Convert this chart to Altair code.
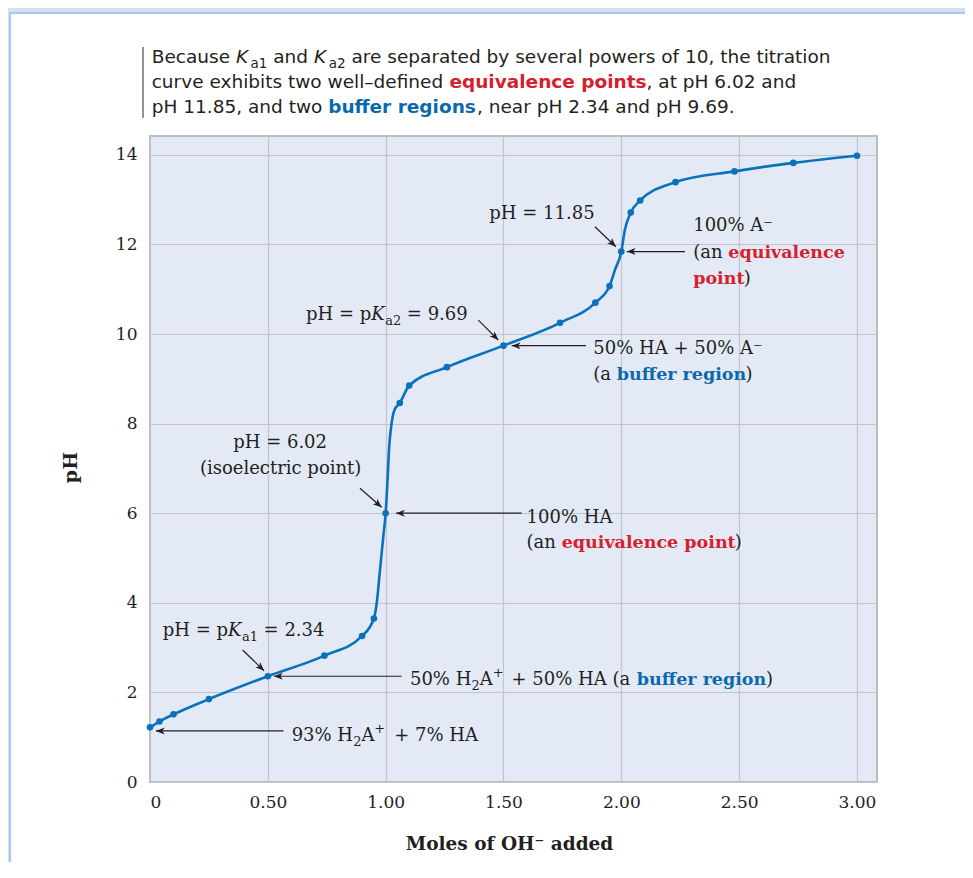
import math
import altair as alt
import pandas as pd

# ---------------- data ----------------
# measured titration points (dots)
moles = [0.00, 0.04, 0.10, 0.25, 0.50, 0.74, 0.90, 0.95, 1.00, 1.06, 1.10, 1.26,
         1.50, 1.74, 1.89, 1.95, 2.00, 2.04, 2.08, 2.23, 2.48, 2.73, 3.00]
ph = [1.22, 1.35, 1.51, 1.85, 2.36, 2.82, 3.26, 3.65, 6.00, 8.46, 8.85, 9.26,
      9.74, 10.25, 10.70, 11.07, 11.84, 12.71, 12.98, 13.39, 13.63, 13.82, 13.98]

# extra positions in its steep parts
trace_moles = [0.962, 0.976, 0.990, 1.008, 1.015, 1.025, 1.037, 1.973, 2.015]
trace_ph = [3.99, 4.73, 5.48, 6.74, 7.48, 8.00, 8.30, 11.43, 12.32]

x_ticks = [0, 0.5, 1.0, 1.5, 2.0, 2.5, 3.0]
y_ticks = [0, 2, 4, 6, 8, 10, 12, 14]

# ---------------- layout / style ----------------
W, H = 727, 646
XDOM = [0, 3.085]
YDOM = [0, 14.42]
BLUE = "#0a72bd"
RED = "#d6202e"
DBLUE = "#0b68ad"
INK = "#231f20"
SERIF = "DejaVu Serif"
SANS = "DejaVu Sans"

xs = alt.Scale(domain=XDOM, nice=False, zero=False)
ys = alt.Scale(domain=YDOM, nice=False, zero=False)

pts_df = pd.DataFrame({"moles": moles, "ph": ph})
curve_df = (pd.DataFrame({"moles": moles + trace_moles, "ph": ph + trace_ph})
            .sort_values("moles").reset_index(drop=True))

# ---------------- annotations (data units) ----------------
ann = [
    # pH = 11.85
    (1.440, 12.56, "pH = 11.85", "serif", INK),
    (2.305, 12.30, "100% A⁻", "serif", INK),
    (2.305, 11.70, "(an", "serif", INK),
    (2.454, 11.70, "equivalence", "serif_b", RED),
    (2.305, 11.116, "point", "serif_b", RED),
    (2.520, 11.116, ")", "serif", INK),
    # pKa2
    (0.662, 10.31, "pH = p", "serif", INK),
    (0.939, 10.31, "K", "serif_i", INK),
    (0.998, 10.198, "a2", "serif_sub", INK),
    (1.090, 10.31, "= 9.69", "serif", INK),
    (1.881, 9.554, "50% HA + 50% A⁻", "serif", INK),
    (1.881, 8.973, "(a", "serif", INK),
    (1.981, 8.973, "buffer region", "serif_b", DBLUE),
    (2.527, 8.973, ")", "serif", INK),
    # isoelectric point
    (0.353, 7.449, "pH = 6.02", "serif", INK),
    (0.212, 6.875, "(isoelectric point)", "serif", INK),
    (1.598, 5.788, "100% HA", "serif", INK),
    (1.598, 5.217, "(an", "serif", INK),
    (1.747, 5.217, "equivalence point", "serif_b", RED),
    (2.481, 5.217, ")", "serif", INK),
    # pKa1
    (0.054, 3.259, "pH = p", "serif", INK),
    (0.331, 3.259, "K", "serif_i", INK),
    (0.390, 3.147, "a1", "serif_sub", INK),
    (0.482, 3.259, "= 2.34", "serif", INK),
    (1.103, 2.165, "50% H", "serif", INK),
    (1.364, 2.053, "2", "serif_sub", INK),
    (1.399, 2.165, "A", "serif", INK),
    (1.454, 2.344, "+", "serif_sub", INK),
    (1.534, 2.165, "+ 50% HA (a", "serif", INK),
    (2.066, 2.165, "buffer region", "serif_b", DBLUE),
    (2.614, 2.165, ")", "serif", INK),
    (0.601, 0.922, "93% H", "serif", INK),
    (0.862, 0.810, "2", "serif_sub", INK),
    (0.897, 0.922, "A", "serif", INK),
    (0.952, 1.101, "+", "serif_sub", INK),
    (1.036, 0.922, "+ 7% HA", "serif", INK),
    # paragraph above the plot
    (0.0072, 16.049, "Because", "sans", INK),
    (0.3645, 16.049, "K", "sans_i", INK),
    (0.4265, 15.937, "a1", "sans_sub", INK),
    (0.523, 16.049, "and", "sans", INK),
    (0.696, 16.049, "K", "sans_i", INK),
    (0.758, 15.937, "a2", "sans_sub", INK),
    (0.855, 16.049, "are separated by several powers of 10, the titration", "sans", INK),
    (0.0072, 15.491, "curve exhibits two well–defined", "sans", INK),
    (1.2705, 15.491, "equivalence points", "sans_b", RED),
    (2.107, 15.491, ", at pH 6.02 and", "sans", INK),
    (0.0072, 14.933, "pH 11.85, and two", "sans", INK),
    (0.756, 14.933, "buffer regions", "sans_b", DBLUE),
    (1.3876, 14.933, ", near pH 2.34 and pH 9.69.", "sans", INK),
]
ann_df = pd.DataFrame(ann, columns=["x", "y", "text", "kind", "color"])

KIND = {
    "serif": dict(font=SERIF, fontSize=18),
    "serif_b": dict(font=SERIF, fontSize=17.5, fontWeight="bold"),
    "serif_i": dict(font=SERIF, fontSize=18, fontStyle="italic"),
    "serif_sub": dict(font=SERIF, fontSize=13),
    "sans": dict(font=SANS, fontSize=18.5),
    "sans_b": dict(font=SANS, fontSize=18.5, fontWeight="bold"),
    "sans_i": dict(font=SANS, fontSize=18.5, fontStyle="italic"),
    "sans_sub": dict(font=SANS, fontSize=13.5),
}

# arrows: tail (x, y) -> tip (x2, y2)
arrows = [
    (1.888, 12.395, 1.977, 11.949),
    (2.270, ph[16], 2.023, ph[16]),
    (1.393, 10.31, 1.478, 9.866),
    (1.850, ph[12], 1.535, ph[12]),
    (0.891, 6.556, 0.983, 6.132),
    (1.577, ph[8], 1.044, ph[8]),
    (0.393, 2.946, 0.484, 2.484),
    (1.068, ph[4], 0.526, ph[4]),
    (0.566, 1.14, 0.025, 1.14),
]
kx = W / (XDOM[1] - XDOM[0])
ky = H / (YDOM[1] - YDOM[0])
arr_rows = []
for x1, y1, x2, y2 in arrows:
    ang = (180 + math.degrees(math.atan2(-(y2 - y1) * ky, (x2 - x1) * kx))) % 360
    arr_rows.append({"x": x1, "y": y1, "x2": x2, "y2": y2, "angle": ang})
arr_df = pd.DataFrame(arr_rows)

bar_df = pd.DataFrame({"x": [-0.0297], "y": [16.406], "y2": [14.821]})

# ---------------- chart ----------------
x_axis = alt.Axis(values=x_ticks, labelExpr="datum.value == 0 ? '0' : format(datum.value, '.2f')",
                  title="Moles of OH⁻ added", titleFont=SERIF, titleFontSize=18.5, titleFontWeight="bold",
                  titleColor=INK, titleX=359, titleY=61, titleBaseline="middle", titleAlign="center",
                  labelFont=SERIF, labelFontSize=17, labelColor=INK, labelPadding=12,
                  ticks=False, domain=False, grid=True, gridColor="#c2c6cc", gridWidth=1.2)
y_axis = alt.Axis(values=y_ticks, title="pH", titleFont=SERIF, titleFontSize=19, titleFontWeight="bold",
                  titleColor=INK, titleX=-80, titleY=331, titleBaseline="middle", titleAlign="center",
                  titleAngle=270,
                  labelFont=SERIF, labelFontSize=17, labelColor=INK, labelPadding=13,
                  ticks=False, domain=False, grid=True, gridColor="#c2c6cc", gridWidth=1.2)


def X(field):
    return alt.X(field, scale=xs, axis=x_axis)


def Y(field):
    return alt.Y(field, scale=ys, axis=y_axis)


line = alt.Chart(curve_df).mark_line(interpolate="monotone", color=BLUE, strokeWidth=2.6).encode(
    x=X("moles:Q"), y=Y("ph:Q"))
dots = alt.Chart(pts_df).mark_circle(size=44, color=BLUE, opacity=1).encode(
    x=X("moles:Q"), y=Y("ph:Q"))

frame = alt.Chart(pd.DataFrame({"a": [0]})).mark_rect(
    fill="white", fillOpacity=0, stroke="#a9c8ec", strokeWidth=2).encode(
    x=alt.value(-140), x2=alt.value(W + 300), y=alt.value(-123), y2=alt.value(H + 300))
glow = alt.Chart(pd.DataFrame({"a": [0]})).mark_rect(
    fill="white", fillOpacity=0, stroke="#d3e0f1", strokeWidth=4).encode(
    x=alt.value(-143), x2=alt.value(W + 300), y=alt.value(-126), y2=alt.value(H + 300))

bar = alt.Chart(bar_df).mark_rule(color="#4a4a4a", strokeWidth=1.2).encode(
    x=X("x:Q"), y=Y("y:Q"), y2="y2:Q")

arrow_lines = alt.Chart(arr_df).mark_rule(color=INK, strokeWidth=1.2).encode(
    x=X("x:Q"), y=Y("y:Q"), x2="x2:Q", y2="y2:Q")
arrow_heads = alt.Chart(arr_df).mark_point(
    shape="M0,0 L2,-0.8 L1.45,0 L2,0.8 Z", filled=True, size=78, color=INK, opacity=1, strokeWidth=0
).encode(
    x=X("x2:Q"), y=Y("y2:Q"),
    angle=alt.Angle("angle:Q", scale=None))

text_layers = []
for kind, props in KIND.items():
    sub = ann_df[ann_df["kind"] == kind]
    if len(sub) == 0:
        continue
    text_layers.append(
        alt.Chart(sub).mark_text(align="left", baseline="alphabetic", **props).encode(
            x=X("x:Q"), y=Y("y:Q"),
            text="text:N",
            color=alt.Color("color:N", scale=None),
        )
    )

chart = alt.layer(line, glow, frame, bar, arrow_lines, arrow_heads, dots, *text_layers).properties(
    width=W, height=H,
    padding={"left": 142, "top": 128, "right": 88, "bottom": 80},
    autosize=alt.AutoSizeParams(type="none"),
    background="white",
).configure_view(fill="#e3eaf5", stroke="#b9bcc2", strokeWidth=2)

chart.save("out.html", embed_options={"renderer": "svg", "actions": False})
